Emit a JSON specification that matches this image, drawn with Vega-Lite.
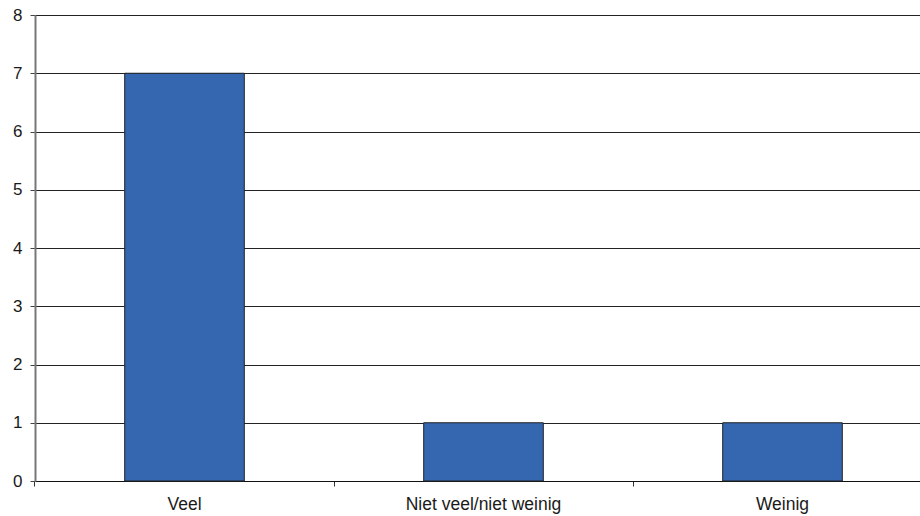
{
  "$schema": "https://vega.github.io/schema/vega-lite/v6.json",
  "autosize": "none",
  "width": 885,
  "height": 466,
  "padding": {"left": 35, "top": 15, "right": 0, "bottom": 35},
  "background": "white",
  "config": {
    "view": {"stroke": null},
    "font": "Liberation Sans"
  },
  "data": {
    "values": [
      {"categorie": "Veel", "aantal": 7},
      {"categorie": "Niet veel/niet weinig", "aantal": 1},
      {"categorie": "Weinig", "aantal": 1}
    ]
  },
  "mark": {"type": "bar", "color": "#3566B0", "stroke": "#222222", "strokeWidth": 1},
  "encoding": {
    "x": {
      "field": "categorie",
      "type": "nominal",
      "sort": null,
      "title": null,
      "scale": {"range": [0, 897], "paddingInner": 0.6, "paddingOuter": 0.3},
      "axis": {
        "bandPosition": -0.75,
        "labelAngle": 0,
        "labelFontSize": 17.5,
        "labelColor": "#1a1a1a",
        "labelPadding": 9,
        "tickColor": "#333333",
        "tickSize": 5,
        "domainColor": "#111111",
        "grid": false
      }
    },
    "y": {
      "field": "aantal",
      "type": "quantitative",
      "title": null,
      "scale": {"domain": [0, 8], "nice": false},
      "axis": {
        "values": [0, 1, 2, 3, 4, 5, 6, 7, 8],
        "labelFontSize": 17,
        "labelColor": "#1a1a1a",
        "labelPadding": 8,
        "tickSize": 5,
        "tickColor": "#444444",
        "domainColor": "#777777",
        "domainWidth": 2,
        "grid": true,
        "gridColor": "#222222",
        "gridOpacity": 1
      }
    }
  }
}
